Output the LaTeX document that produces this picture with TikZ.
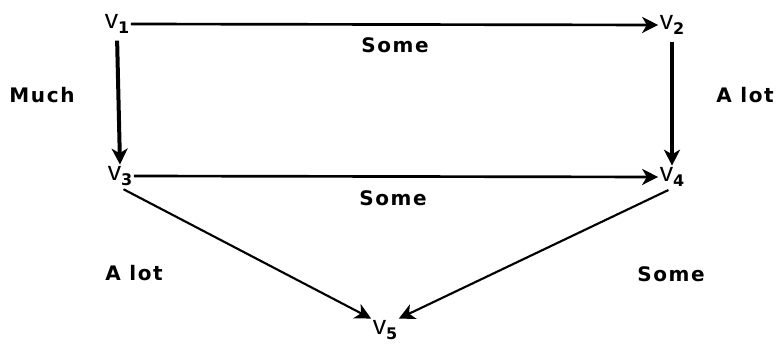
\documentclass[tikz,border=0pt]{standalone}
\usepackage{fontspec}
\setmainfont{DejaVu Sans}
\newfontfamily\vfont{Liberation Sans}
\usetikzlibrary{arrows.meta}
\newcommand\vx[1]{{\vfont\fontsize{20}{20}\selectfont v}\raisebox{-4pt}{\bfseries\fontsize{12}{12}\selectfont #1}}

\begin{document}
\begin{tikzpicture}[x=0.75pt, y=-0.75pt,
      vtx/.style = {inner sep=1pt},
      lbl/.style = {font=\bfseries\fontsize{15}{15}\selectfont\addfontfeature{LetterSpace=8}},
      edge/.style = {line width=2pt, -{Stealth[length=12pt,width=12pt,inset=3.5pt]}}]
  \useasboundingbox (0,0) rectangle (777,345);
  \node[vtx] (v1) at (117,24) {\vx{1}};
  \node[vtx] (v2) at (672,25) {\vx{2}};
  \node[vtx] (v3) at (120,176) {\vx{3}};
  \node[vtx] (v4) at (672,177) {\vx{4}};
  \node[vtx] (v5) at (385,330) {\vx{5}};
  \node[lbl] (s12) at (395,45) {Some};
  \node[lbl] (s34) at (393,198) {Some};
  \node[lbl] (m13) at (42,95) {Much};
  \node[lbl] (a24) at (745,95) {A lot};
  \node[lbl] (a35) at (134,273) {A lot};
  \node[lbl] (s45) at (671,274) {Some};
  \draw[edge] (v1.east) -- (v2.west);
  \draw[edge] (v3.east) -- (v4.west);
  \draw[edge, line width=3pt, shorten <=4pt] (v1.south) -- (v3.north);
  \draw[edge, line width=3pt, shorten <=4pt] (v2.south) -- (v4.north);
  \draw[edge, line width=1.6pt, shorten <=3pt] (v3.south) -- (v5.north west);
  \draw[edge, line width=1.6pt, shorten <=3pt] (v4.south) -- (v5.north east);
\end{tikzpicture}
\end{document}
